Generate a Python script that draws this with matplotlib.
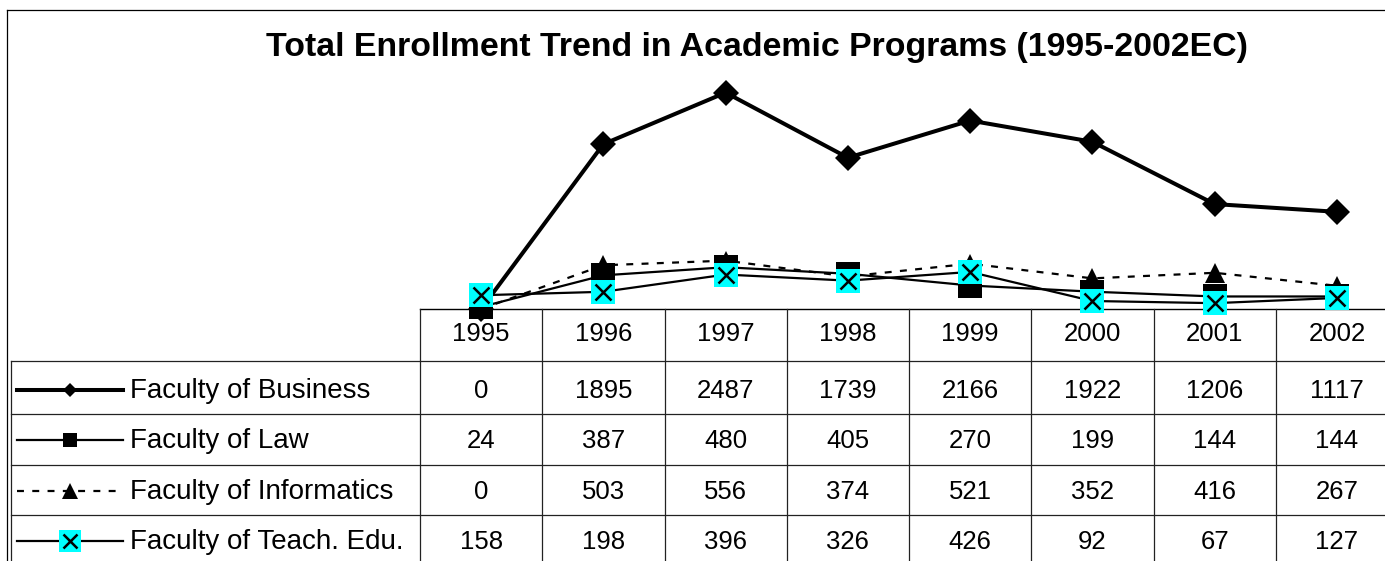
import matplotlib
matplotlib.use('Agg')
import matplotlib.pyplot as plt
import matplotlib.transforms as mtrans

# ---------------- data ----------------
years = ['1995', '1996', '1997', '1998', '1999', '2000', '2001', '2002']
business = [0, 1895, 2487, 1739, 2166, 1922, 1206, 1117]
law = [24, 387, 480, 405, 270, 199, 144, 144]
informatics = [0, 503, 556, 374, 521, 352, 416, 267]
teach_edu = [158, 198, 396, 326, 426, 92, 67, 127]
series_names = ['Faculty of Business', 'Faculty of Law',
                'Faculty of Informatics', 'Faculty of Teach. Edu.']
title = 'Total Enrollment Trend in Academic Programs (1995-2002EC)'

plt.rcParams['font.family'] = ['Liberation Sans', 'DejaVu Sans']
plt.rcParams['lines.scale_dashes'] = False

W, H = 1385, 561
fig = plt.figure(figsize=(W / 100, H / 100), dpi=100)

# overlay axes in pixel coordinates (for table / frame)
ov = fig.add_axes([0, 0, 1, 1])
ov.set_xlim(0, W)
ov.set_ylim(H, 0)
ov.axis('off')

# plot axes: category columns of 122.25 px starting at x=420
ax = fig.add_axes([420 / W, 1 - 309 / H, 978 / W, (309 - 48) / H])
ax.set_xlim(-0.5, len(years) - 0.5)
ax.set_ylim(0, 3000)
ax.axis('off')

xs = list(range(len(years)))
values = [business, law, informatics, teach_edu]

styles = [
    dict(line=dict(color='black', lw=2.9, ls='-'),
         mk=dict(marker='D', ms=13.5, mfc='black', mec='black', mew=0), key_ms=6.8),
    dict(line=dict(color='black', lw=1.6, ls='-'),
         mk=dict(marker='s', ms=17, mfc='black', mec='black', mew=0), key_ms=10),
    dict(line=dict(color='black', lw=1.6, ls=(0, (5, 6))),
         mk=dict(marker='^', ms=14.5, mfc='black', mec='black', mew=0), key_ms=12),
    dict(line=dict(color='black', lw=1.6, ls='-'),
         mk=dict(marker='s', ms=17, mfc='#00FFFF', mec='none', mew=0), key_ms=16),
]

for i, (vals, st) in enumerate(zip(values, styles)):
    ax.plot(xs, vals, clip_on=False, zorder=3 + i, **st['line'])
    ax.plot(xs, vals, ls='none', clip_on=False, zorder=3.5 + i, **st['mk'])
    if i == 3:
        ax.plot(xs, vals, ls='none', marker='x', ms=11.5, mew=1.8, color='black',
                clip_on=False, zorder=3.6 + i)

# title
ov.text(757, 55.5, title, ha='center', va='baseline', fontsize=24.4,
        fontweight='bold', color='black')

# ---------------- table ----------------
blend = mtrans.blended_transform_factory(ax.transData, ov.transData)
grid_c = '#222222'
glw = 0.9

# outer frame
ov.plot([7, 7], [10, H], color='black', lw=0.9, clip_on=False)
ov.plot([7, W], [10, 10], color='black', lw=0.9, clip_on=False)

# header top line and column lines
ov.plot([-0.5, len(years) - 0.5], [309, 309], transform=blend, color='black', lw=1.0, clip_on=False)
for k in range(len(years) + 1):
    ov.plot([k - 0.5, k - 0.5], [309, H], transform=blend, color=grid_c, lw=glw, clip_on=False)

row_lines = [361, 414, 465, 515]
for yl in row_lines:
    ov.plot([11, W], [yl, yl], color=grid_c, lw=glw, clip_on=False)
ov.plot([11, 11], [361, H], color=grid_c, lw=glw, clip_on=False)

fs = 18.5
fs_label = 20
header_base = 341
for i, yr in enumerate(years):
    ov.text(i, header_base, yr, transform=blend, ha='center', va='baseline', fontsize=fs)

row_base = [398, 448, 499, 549]
for r, (vals, name, st) in enumerate(zip(values, series_names, styles)):
    yb = row_base[r]
    yk = yb - 8.5
    for i, v in enumerate(vals):
        ov.text(i, yb, str(v), transform=blend, ha='center', va='baseline', fontsize=fs)
    ov.text(130, yb, name, ha='left', va='baseline', fontsize=fs_label)
    # legend key
    ov.plot([17, 123], [yk, yk], clip_on=False, **st['line'])
    mk = dict(st['mk'])
    mk['ms'] = st['key_ms']
    ov.plot([70], [yk], ls='none', clip_on=False, **mk)
    if r == 3:
        ov.plot([70], [yk], ls='none', marker='x', ms=10.5, mew=1.8, color='black', clip_on=False)

fig.savefig('out.png', dpi=100)
